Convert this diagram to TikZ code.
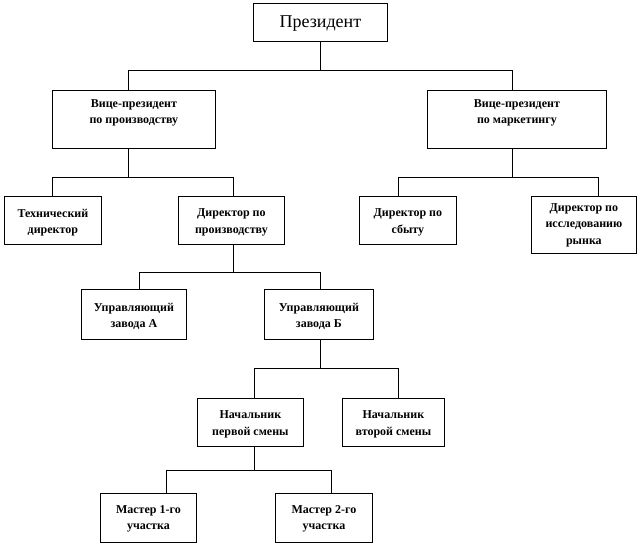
\documentclass[tikz,border=0pt]{standalone}
\usepackage{fontspec}
\setmainfont{Liberation Serif}
\begin{document}
\begin{tikzpicture}[x=1pt,y=-1pt,
  box/.style={draw=black,line width=0.8pt,anchor=north west,inner sep=0pt,fill=white},
  txt/.style={align=center,font=\fontsize{12}{16.5}\selectfont\bfseries,inner sep=0pt},
  conn/.style={draw=black,line width=0.8pt}]
\useasboundingbox[fill=white] (0,0) rectangle (640,544);
% boxes
\node[box,minimum width=134pt,minimum height=38pt] (pres) at (253,3) {};
\node[font=\fontsize{18}{20}\selectfont,inner sep=0pt] (prest) at ([yshift=-1pt]pres.center) {Президент};
\node[box,minimum width=163pt,minimum height=58pt] (vp1) at (52,90) {};
\node[txt,anchor=north] (vp1t) at ([yshift=-9pt]vp1.north) {Вице-президент\\по производству};
\node[box,minimum width=179pt,minimum height=58pt] (vp2) at (427,90) {};
\node[txt,anchor=north] (vp2t) at ([yshift=-9pt]vp2.north) {Вице-президент\\по маркетингу};
\node[box,minimum width=97pt,minimum height=48pt] (tech) at (4,196) {};
\node[txt] (techt) at ([yshift=-2pt]tech.center) {Технический\\директор};
\node[box,minimum width=106pt,minimum height=48pt] (dirp) at (178,196) {};
\node[txt] (dirpt) at ([yshift=-2pt]dirp.center) {Директор по\\производству};
\node[box,minimum width=97pt,minimum height=48pt] (sales) at (359,196) {};
\node[txt] (salest) at ([yshift=-2pt]sales.center) {Директор по\\сбыту};
\node[box,minimum width=105pt,minimum height=57pt] (res) at (531,196) {};
\node[txt] (rest) at (res.center) {Директор по\\исследованию\\рынка};
\node[box,minimum width=105pt,minimum height=50pt] (upa) at (81,289) {};
\node[txt] (upat) at ([yshift=-2pt]upa.center) {Управляющий\\завода А};
\node[box,minimum width=109pt,minimum height=50pt] (upb) at (264,289) {};
\node[txt] (upbt) at ([yshift=-2pt]upb.center) {Управляющий\\завода Б};
\node[box,minimum width=106pt,minimum height=48pt] (ch1) at (197,398) {};
\node[txt] (ch1t) at ([yshift=-2pt]ch1.center) {Начальник\\первой смены};
\node[box,minimum width=102pt,minimum height=48pt] (ch2) at (342,398) {};
\node[txt] (ch2t) at ([yshift=-2pt]ch2.center) {Начальник\\второй смены};
\node[box,minimum width=96pt,minimum height=49pt] (m1) at (100,493) {};
\node[txt] (m1t) at ([yshift=-1pt]m1.center) {Мастер 1-го\\участка};
\node[box,minimum width=97pt,minimum height=49pt] (m2) at (275,493) {};
\node[txt] (m2t) at ([yshift=-1pt]m2.center) {Мастер 2-го\\участка};
% bus coordinates
\coordinate (b1l) at (128,70); \coordinate (b1r) at (512,70);
\coordinate (b2l) at (52,177); \coordinate (b2r) at (233,177);
\coordinate (b3l) at (398,177); \coordinate (b3r) at (598,177);
\coordinate (b4l) at (139,272); \coordinate (b4r) at (320,272);
\coordinate (b5l) at (254,368); \coordinate (b5r) at (398,368);
\coordinate (b6l) at (166,470); \coordinate (b6r) at (331,470);
% connectors
\draw[conn] (pres.south) -- (pres.south |- b1l);
\draw[conn] (vp1.north -| b1l) -- (b1l) -- (b1r) -- (vp2.north -| b1r);
\draw[conn] (vp1.south -| b1l) -- (b1l |- b2l);
\draw[conn] (tech.north -| b2l) -- (b2l) -- (b2r) -- (dirp.north -| b2r);
\draw[conn] (vp2.south -| b1r) -- (b1r |- b3l);
\draw[conn] (sales.north -| b3l) -- (b3l) -- (b3r) -- (res.north -| b3r);
\draw[conn] (dirp.south -| b2r) -- (b2r |- b4l);
\draw[conn] (upa.north -| b4l) -- (b4l) -- (b4r) -- (upb.north -| b4r);
\draw[conn] (upb.south -| b4r) -- (b4r |- b5l);
\draw[conn] (ch1.north -| b5l) -- (b5l) -- (b5r) -- (ch2.north -| b5r);
\draw[conn] (ch1.south -| b5l) -- (b5l |- b6l);
\draw[conn] (m1.north -| b6l) -- (b6l) -- (b6r) -- (m2.north -| b6r);
\end{tikzpicture}
\end{document}
